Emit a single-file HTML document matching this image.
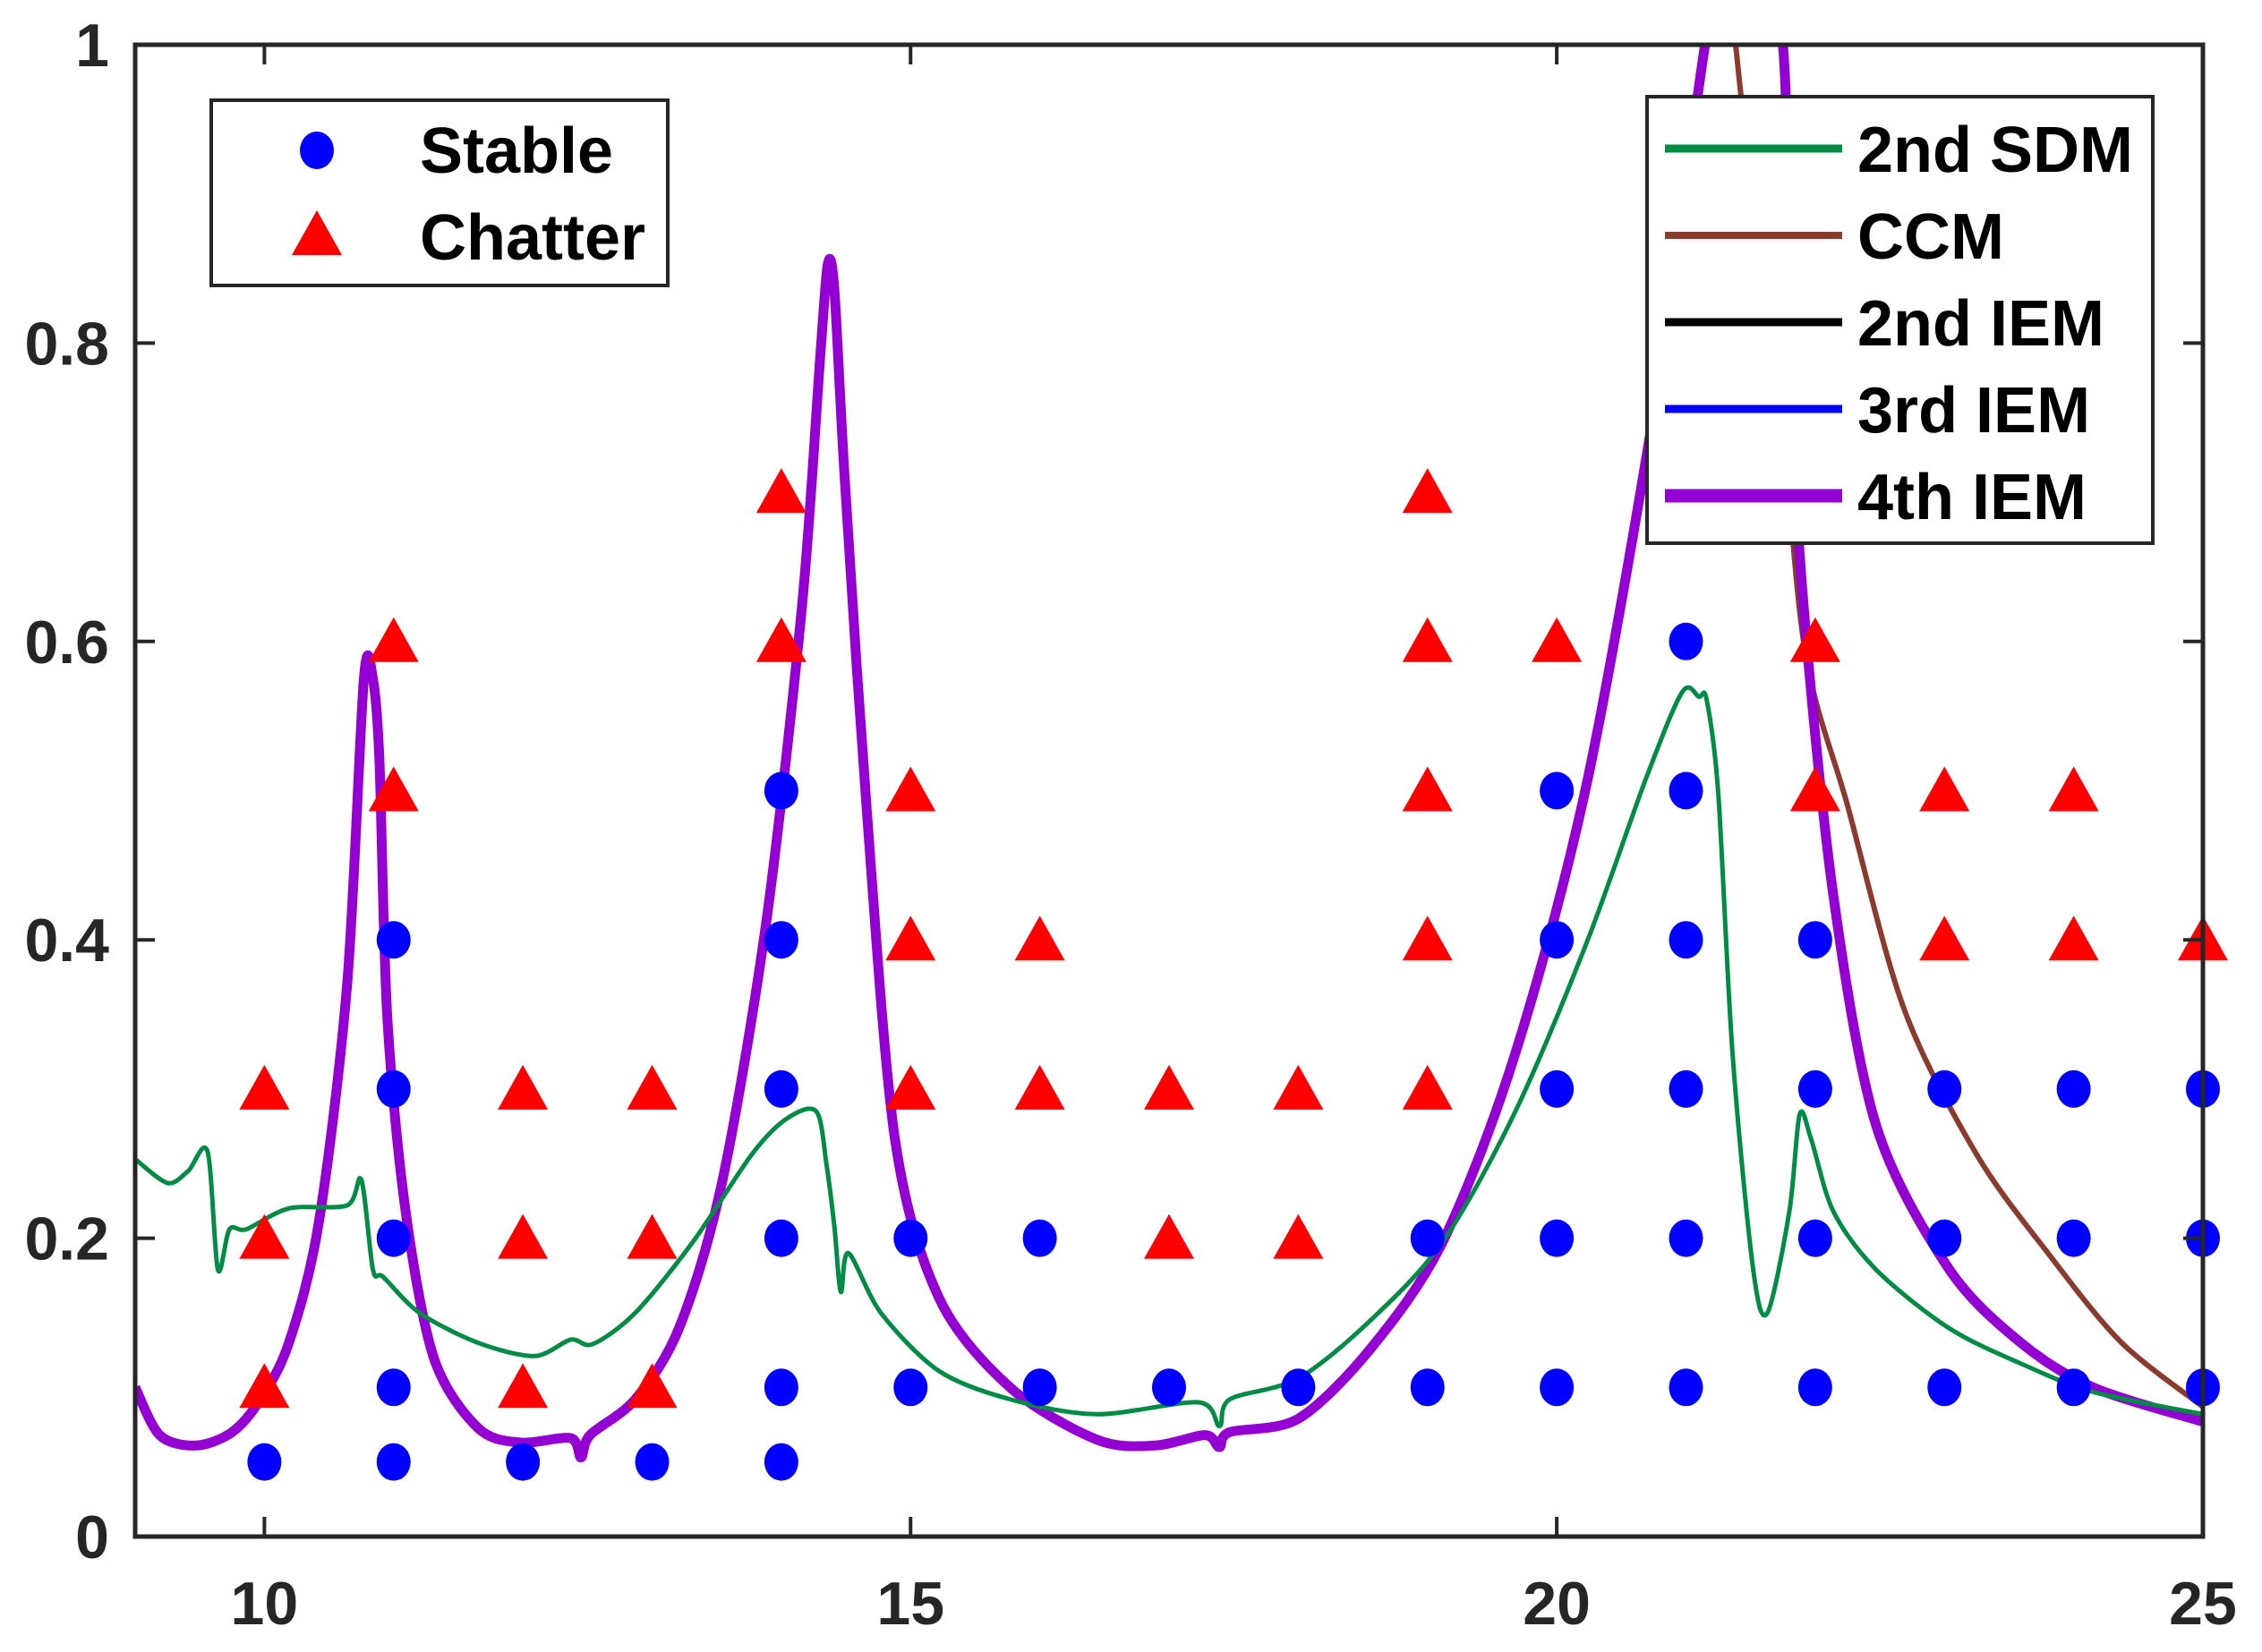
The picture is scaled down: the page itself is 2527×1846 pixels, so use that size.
<!DOCTYPE html>
<html><head><meta charset="utf-8"><style>
html,body{margin:0;padding:0;background:#fff;}
svg{display:block;font-family:"Liberation Sans",Arial,sans-serif;font-weight:bold;}
</style></head><body>
<svg id="chart" width="2527" height="1846" viewBox="0 0 2527 1846" xmlns="http://www.w3.org/2000/svg">
<defs><clipPath id="clip"><rect x="151" y="50" width="2310" height="1667"/></clipPath></defs>
<g id="plot" clip-path="url(#clip)"></g>
<g id="marks"></g>
<g id="axes"></g>
<g id="legends"></g>
</svg>
<script>
const xTicks=[10,15,20,25];
const yTicks=[0,0.2,0.4,0.6,0.8,1];
const yTickLabels=['0','0.2','0.4','0.6','0.8','1'];
const stableX=[10,11,11,11,11,11,12,13,14,14,14,14,14,14,15,15,16,16,17,18,19,19,20,20,20,20,20,21,21,21,21,21,21,22,22,22,22,23,23,23,24,24,24,25,25,25];
const stableY=[0.05,0.05,0.1,0.2,0.3,0.4,0.05,0.05,0.05,0.1,0.2,0.3,0.4,0.5,0.1,0.2,0.1,0.2,0.1,0.1,0.1,0.2,0.1,0.2,0.3,0.4,0.5,0.1,0.2,0.3,0.4,0.5,0.6,0.1,0.2,0.3,0.4,0.1,0.2,0.3,0.1,0.2,0.3,0.1,0.2,0.3];
const chatterX=[10,10,10,11,11,12,12,12,13,13,13,14,14,15,15,15,16,16,17,17,18,18,19,19,19,19,19,20,22,22,23,23,24,24,25];
const chatterY=[0.1,0.2,0.3,0.5,0.6,0.1,0.2,0.3,0.1,0.2,0.3,0.6,0.7,0.3,0.4,0.5,0.3,0.4,0.2,0.3,0.2,0.3,0.3,0.4,0.5,0.6,0.7,0.6,0.5,0.6,0.4,0.5,0.4,0.5,0.4];
const iem4X=[9,9.19,9.47,9.75,9.97,10.19,10.42,10.64,10.77,10.84,10.89,10.95,11.09,11.31,11.65,11.98,12.37,12.45,12.52,12.87,13.21,13.54,13.88,14.16,14.3,14.36,14.41,14.49,14.66,14.88,15.22,15.77,16.44,16.89,17.28,17.39,17.47,18,18.56,19.12,19.68,20.24,20.8,21.13,21.45,21.75,21.8,21.91,22.14,22.47,23.03,23.59,24.15,25];
const iem4Y=[0.1,0.068,0.061,0.07,0.092,0.13,0.21,0.37,0.575,0.575,0.52,0.35,0.22,0.12,0.073,0.063,0.066,0.053,0.068,0.092,0.14,0.237,0.41,0.624,0.79,0.853,0.836,0.71,0.488,0.266,0.16,0.1,0.065,0.061,0.068,0.06,0.07,0.079,0.126,0.198,0.324,0.508,0.78,0.99,1.15,1.0,0.79,0.624,0.43,0.276,0.18,0.13,0.1,0.077];
const sdmX=[9,9.25,9.41,9.56,9.64,9.73,9.86,10.19,10.64,10.75,10.84,10.92,11.2,11.65,12.09,12.37,12.54,12.87,13.32,13.77,14.04,14.27,14.35,14.41,14.46,14.52,14.77,15.22,15.77,16.44,17.23,17.39,17.47,18,18.56,19.12,19.68,20.24,20.69,20.97,21.1,21.16,21.25,21.36,21.52,21.63,21.8,21.88,21.97,22.14,22.47,23.03,23.59,24.15,25];
const sdmY=[0.253,0.237,0.245,0.258,0.179,0.206,0.206,0.22,0.222,0.239,0.179,0.174,0.15,0.13,0.121,0.132,0.129,0.15,0.198,0.256,0.28,0.285,0.249,0.208,0.164,0.19,0.15,0.111,0.092,0.082,0.09,0.074,0.092,0.106,0.145,0.198,0.285,0.4,0.508,0.566,0.563,0.561,0.498,0.324,0.179,0.15,0.218,0.283,0.266,0.218,0.179,0.14,0.116,0.097,0.082];
const ccmX=[20.8,21.13,21.3,21.47,21.69,21.91,22.25,22.69,23.25,23.81,24.37,25];
const ccmY=[0.78,0.99,1.05,0.933,0.81,0.6,0.49,0.353,0.256,0.189,0.13,0.087];

const NS='http://www.w3.org/2000/svg';
const L=151,R=2461,T=50,B=1717,XMIN=9,XMAX=25;
const sx=v=>L+(v-XMIN)/(XMAX-XMIN)*(R-L);
const sy=v=>B-v*(B-T);
function mk(tag,attrs,parent){const e=document.createElementNS(NS,tag);for(const k in attrs)e.setAttribute(k,attrs[k]);parent.appendChild(e);return e;}
const plot=document.getElementById('plot'),marks=document.getElementById('marks'),axes=document.getElementById('axes'),lg=document.getElementById('legends');
function smoothPath(P){
  let d='M'+P[0][0].toFixed(1)+','+P[0][1].toFixed(1);
  for(let i=0;i<P.length-1;i++){
    const p0=P[Math.max(0,i-1)],p1=P[i],p2=P[i+1],p3=P[Math.min(P.length-1,i+2)];
    const t=0.15;
    const c1=[p1[0]+(p2[0]-p0[0])*t,p1[1]+(p2[1]-p0[1])*t];
    const c2=[p2[0]-(p3[0]-p1[0])*t,p2[1]-(p3[1]-p1[1])*t];
    d+=` C${c1[0].toFixed(1)},${c1[1].toFixed(1)} ${c2[0].toFixed(1)},${c2[1].toFixed(1)} ${p2[0].toFixed(1)},${p2[1].toFixed(1)}`;
  }
  return d;
}
function line(xs,ys,color,w,name,smooth){
  const P=xs.map((x,i)=>[sx(x),sy(ys[i])]);
  const d=smooth?smoothPath(P):P.map((p,i)=>(i?'L':'M')+p[0].toFixed(1)+','+p[1].toFixed(1)).join(' ');
  const p=mk('path',{d:d,fill:'none',stroke:color,'stroke-width':w,'stroke-linejoin':'round'},plot);
  
  
}
line(ccmX,ccmY,'#8B3A2E',6,'ccm-line',true);
line(iem4X,iem4Y,'#000000',5,'2nd-iem-line',true);
line(iem4X,iem4Y,'#0000FF',5,'3rd-iem-line',true);
line(iem4X,iem4Y,'#9400D3',11,'4th-iem-line',true);
line(sdmX,sdmY,'#008C45',5,'2nd-sdm-line',true);
function tri(cx,cy,parent){return mk('polygon',{points:`${cx},${cy-27} ${cx-28},${cy+23} ${cx+28},${cy+23}`,fill:'#FF0000'},parent);}
chatterX.forEach((x,i)=>{const t=tri(sx(x),sy(chatterY[i]),marks);
  
  });
stableX.forEach((x,i)=>{const c=mk('ellipse',{cx:sx(x),cy:sy(stableY[i]),rx:19,ry:21,fill:'#0000FF'},marks);
  
  });
const fr=mk('rect',{x:L,y:T,width:R-L,height:B-T,fill:'none',stroke:'#262626','stroke-width':5},axes);


xTicks.forEach(v=>{const x=sx(v);
  mk('line',{x1:x,y1:B,x2:x,y2:B-22,stroke:'#262626','stroke-width':4},axes);
  mk('line',{x1:x,y1:T,x2:x,y2:T+22,stroke:'#262626','stroke-width':4},axes);
  const t=mk('text',{x:x,y:1815,'text-anchor':'middle','font-size':68,fill:'#262626'},axes);t.textContent=v;
  
  });
yTicks.forEach((v,i)=>{const y=sy(v);
  mk('line',{x1:L,y1:y,x2:L+22,y2:y,stroke:'#262626','stroke-width':4},axes);
  mk('line',{x1:R,y1:y,x2:R-22,y2:y,stroke:'#262626','stroke-width':4},axes);
  const t=mk('text',{x:122,y:y+24,'text-anchor':'end','font-size':68,fill:'#262626'},axes);t.textContent=yTickLabels[i];
  
  });
const b1=mk('rect',{x:236,y:112,width:510,height:207,fill:'#fff',stroke:'#262626','stroke-width':4},lg);


mk('ellipse',{cx:354,cy:168,rx:19,ry:21,fill:'#0000FF'},lg);
tri(354,262,lg);
[['Stable',193],['Chatter',290]].forEach(([s,y])=>{const t=mk('text',{x:469,y:y,'font-size':72,fill:'#000'},lg);t.textContent=s;
  
  });
const b2=mk('rect',{x:1840,y:108,width:565,height:499,fill:'#fff',stroke:'#262626','stroke-width':4},lg);


const lgNames=['2nd SDM','CCM','2nd IEM','3rd IEM','4th IEM'];
const lgColors=['#008C45','#8B3A2E','#000000','#0000FF','#9400D3'];
const lgW=[9,8,9,9,15];
lgNames.forEach((n,i)=>{const y=166+i*97;
  mk('line',{x1:1860,y1:y,x2:2058,y2:y,stroke:lgColors[i],'stroke-width':lgW[i]},lg);
  const t=mk('text',{x:2075,y:y+26,'font-size':72,fill:'#000'},lg);t.textContent=n;
  
  });
</script>
</body></html>
